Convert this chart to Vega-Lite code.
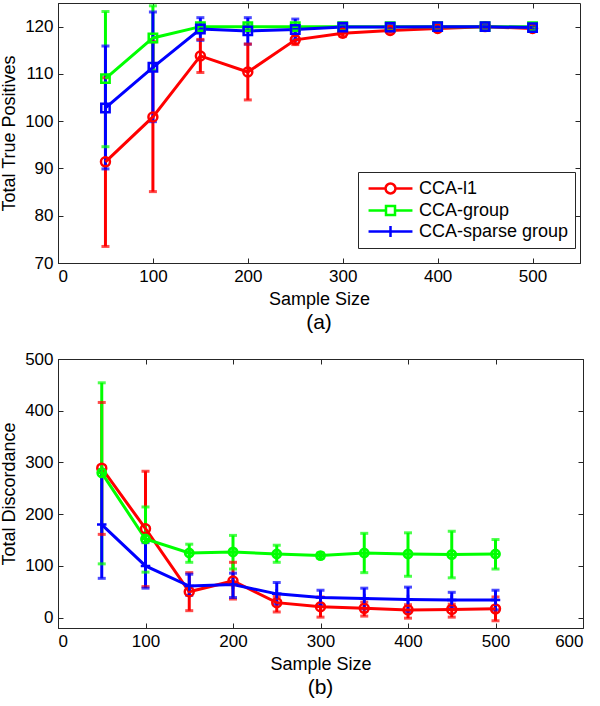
{
  "$schema": "https://vega.github.io/schema/vega-lite/v6.json",
  "padding": {"left": 0, "top": 2, "right": 5, "bottom": 2},
  "config": {
    "font": "Liberation Sans",
    "view": {"stroke": "#262626", "strokeWidth": 1},
    "axis": {"labelFontSize": 17, "titleFontSize": 18, "titleFontWeight": "normal", "labelColor": "#000", "titleColor": "#000", "domainColor": "#262626", "tickColor": "#262626", "tickSize": -5, "grid": false, "labelPadding": 10, "titlePadding": 6},
    "title": {"fontSize": 21, "fontWeight": "normal", "orient": "bottom", "offset": 4, "color": "#000"},
    "concat": {"spacing": 15}
  },
  "resolve": {"legend": {"color": "independent"}},
  "datasets": {
    "tp": [
      {"method": "CCA-l1", "n": 50, "mean": 91.4, "lo": 73.5, "hi": 109.2},
      {"method": "CCA-l1", "n": 100, "mean": 100.9, "lo": 85.1, "hi": 116.8},
      {"method": "CCA-l1", "n": 150, "mean": 113.8, "lo": 110.3, "hi": 117.3},
      {"method": "CCA-l1", "n": 200, "mean": 110.4, "lo": 104.5, "hi": 116.3},
      {"method": "CCA-l1", "n": 250, "mean": 117.2, "lo": 116.2, "hi": 118.2},
      {"method": "CCA-l1", "n": 300, "mean": 118.6, "lo": 117.9, "hi": 119.3},
      {"method": "CCA-l1", "n": 350, "mean": 119.2, "lo": 118.7, "hi": 119.7},
      {"method": "CCA-l1", "n": 400, "mean": 119.6, "lo": 119.2, "hi": 120.0},
      {"method": "CCA-l1", "n": 450, "mean": 120.0, "lo": 119.7, "hi": 120.3},
      {"method": "CCA-l1", "n": 500, "mean": 119.6, "lo": 119.1, "hi": 120.1},
      {"method": "CCA-group", "n": 50, "mean": 109.0, "lo": 94.6, "hi": 123.2},
      {"method": "CCA-group", "n": 100, "mean": 117.6, "lo": 110.8, "hi": 124.4},
      {"method": "CCA-group", "n": 150, "mean": 120.0, "lo": 119.7, "hi": 120.3},
      {"method": "CCA-group", "n": 200, "mean": 120.0, "lo": 119.7, "hi": 120.3},
      {"method": "CCA-group", "n": 250, "mean": 120.0, "lo": 119.7, "hi": 120.3},
      {"method": "CCA-group", "n": 300, "mean": 120.0, "lo": 119.8, "hi": 120.2},
      {"method": "CCA-group", "n": 350, "mean": 120.0, "lo": 119.8, "hi": 120.2},
      {"method": "CCA-group", "n": 400, "mean": 120.0, "lo": 119.8, "hi": 120.2},
      {"method": "CCA-group", "n": 450, "mean": 120.0, "lo": 119.8, "hi": 120.2},
      {"method": "CCA-group", "n": 500, "mean": 120.0, "lo": 119.8, "hi": 120.2},
      {"method": "CCA-sparse group", "n": 50, "mean": 102.8, "lo": 89.9, "hi": 115.9},
      {"method": "CCA-sparse group", "n": 100, "mean": 111.4, "lo": 99.9, "hi": 123.1},
      {"method": "CCA-sparse group", "n": 150, "mean": 119.5, "lo": 117.1, "hi": 121.9},
      {"method": "CCA-sparse group", "n": 200, "mean": 119.1, "lo": 116.3, "hi": 121.9},
      {"method": "CCA-sparse group", "n": 250, "mean": 119.4, "lo": 117.2, "hi": 121.6},
      {"method": "CCA-sparse group", "n": 300, "mean": 119.9, "lo": 119.5, "hi": 120.3},
      {"method": "CCA-sparse group", "n": 350, "mean": 119.9, "lo": 119.4, "hi": 120.4},
      {"method": "CCA-sparse group", "n": 400, "mean": 120.0, "lo": 119.6, "hi": 120.4},
      {"method": "CCA-sparse group", "n": 450, "mean": 120.0, "lo": 119.7, "hi": 120.3},
      {"method": "CCA-sparse group", "n": 500, "mean": 119.8, "lo": 119.4, "hi": 120.2}
    ],
    "disc": [
      {"method": "CCA-l1", "n": 50, "mean": 289, "lo": 161, "hi": 416},
      {"method": "CCA-l1", "n": 100, "mean": 172, "lo": 60, "hi": 283},
      {"method": "CCA-l1", "n": 150, "mean": 50, "lo": 13.5, "hi": 87},
      {"method": "CCA-l1", "n": 200, "mean": 71, "lo": 36, "hi": 107},
      {"method": "CCA-l1", "n": 250, "mean": 29, "lo": 11, "hi": 41},
      {"method": "CCA-l1", "n": 300, "mean": 21, "lo": 1, "hi": 40},
      {"method": "CCA-l1", "n": 350, "mean": 18, "lo": 3, "hi": 30},
      {"method": "CCA-l1", "n": 400, "mean": 15, "lo": -1, "hi": 25},
      {"method": "CCA-l1", "n": 450, "mean": 16, "lo": 1, "hi": 26},
      {"method": "CCA-l1", "n": 500, "mean": 17, "lo": -6, "hi": 40},
      {"method": "CCA-group", "n": 50, "mean": 280, "lo": 104, "hi": 454},
      {"method": "CCA-group", "n": 100, "mean": 152, "lo": 88, "hi": 214},
      {"method": "CCA-group", "n": 150, "mean": 125, "lo": 107, "hi": 142},
      {"method": "CCA-group", "n": 200, "mean": 127, "lo": 94, "hi": 159},
      {"method": "CCA-group", "n": 250, "mean": 123, "lo": 107, "hi": 140},
      {"method": "CCA-group", "n": 300, "mean": 120, "lo": 115, "hi": 125},
      {"method": "CCA-group", "n": 350, "mean": 125, "lo": 87, "hi": 163},
      {"method": "CCA-group", "n": 400, "mean": 123, "lo": 80, "hi": 164},
      {"method": "CCA-group", "n": 450, "mean": 122, "lo": 77, "hi": 167},
      {"method": "CCA-group", "n": 500, "mean": 123, "lo": 94, "hi": 151},
      {"method": "CCA-sparse group", "n": 50, "mean": 180, "lo": 76, "hi": 286},
      {"method": "CCA-sparse group", "n": 100, "mean": 100, "lo": 57, "hi": 145},
      {"method": "CCA-sparse group", "n": 150, "mean": 61, "lo": 43, "hi": 84},
      {"method": "CCA-sparse group", "n": 200, "mean": 64, "lo": 39, "hi": 86},
      {"method": "CCA-sparse group", "n": 250, "mean": 46, "lo": 26, "hi": 68},
      {"method": "CCA-sparse group", "n": 300, "mean": 39, "lo": 24, "hi": 53},
      {"method": "CCA-sparse group", "n": 350, "mean": 37, "lo": 17, "hi": 57},
      {"method": "CCA-sparse group", "n": 400, "mean": 35, "lo": 12, "hi": 59},
      {"method": "CCA-sparse group", "n": 450, "mean": 34, "lo": 20, "hi": 49},
      {"method": "CCA-sparse group", "n": 500, "mean": 34, "lo": 15, "hi": 53}
    ]
  },
  "vconcat": [
    {
      "width": 522,
      "height": 260,
      "title": {"text": "(a)"},
      "data": {"name": "tp"},
      "layer": [
        {
          "mark": {"type": "rule", "strokeWidth": 3},
          "encoding": {
            "x": {"field": "n", "type": "quantitative", "scale": {"domain": [0, 550], "nice": false}, "axis": {"values": [0, 100, 200, 300, 400, 500], "title": "Sample Size"}},
            "y": {"field": "lo", "type": "quantitative", "scale": {"domain": [70, 125], "nice": false, "zero": false}, "axis": {"values": [70, 80, 90, 100, 110, 120], "title": "Total True Positives"}},
            "y2": {"field": "hi"},
            "color": {"field": "method", "type": "nominal", "scale": {"domain": ["CCA-l1", "CCA-group", "CCA-sparse group"], "range": ["#ff0000", "#00ff00", "#0000ff"]}, "legend": {
              "orient": "none", "legendX": 300, "legendY": 169, "title": null,
              "strokeColor": "#262626", "fillColor": "white", "padding": 6,
              "labelFontSize": 18, "labelColor": "#000", "symbolSize": 324, "symbolStrokeWidth": 2.5,
              "symbolOffset": 16, "labelOffset": 18, "rowPadding": 1,
              "encode": {"symbols": {"update": {"shape": {"signal": "datum.value === 'CCA-l1' ? 'M-2.44,0H-0.55M0.55,0H2.44M0.55,0A0.55,0.55 0 1,1 -0.55,0A0.55,0.55 0 1,1 0.55,0' : datum.value === 'CCA-group' ? 'M-2.44,0H-0.5M0.5,0H2.44M-0.5,-0.5H0.5V0.5H-0.5Z' : 'M-2.44,0H2.44M0,-0.6V0.6'"}, "fill": {"value": "transparent"}, "fillOpacity": {"value": 0}}}}
            }}
          }
        },
        {
          "mark": {"type": "tick", "orient": "horizontal", "size": 8, "thickness": 3},
          "encoding": {
            "x": {"field": "n", "type": "quantitative", "axis": null},
            "y": {"field": "lo", "type": "quantitative", "axis": null},
            "color": {"field": "method", "type": "nominal"}
          }
        },
        {
          "mark": {"type": "tick", "orient": "horizontal", "size": 8, "thickness": 3},
          "encoding": {
            "x": {"field": "n", "type": "quantitative", "axis": null},
            "y": {"field": "hi", "type": "quantitative", "axis": null},
            "color": {"field": "method", "type": "nominal"}
          }
        },
        {
          "mark": {"type": "line", "strokeWidth": 3},
          "encoding": {
            "x": {"field": "n", "type": "quantitative", "axis": null},
            "y": {"field": "mean", "type": "quantitative", "axis": null},
            "color": {"field": "method", "type": "nominal"}
          }
        },
        {
          "transform": [{"filter": "datum.method === 'CCA-l1'"}],
          "mark": {"type": "point", "filled": false, "strokeWidth": 2.5, "size": 80, "opacity": 1, "shape": "circle"},
          "encoding": {
            "x": {"field": "n", "type": "quantitative", "axis": {"orient": "top", "labels": false, "title": null, "domain": false, "values": [0, 100, 200, 300, 400, 500]}},
            "y": {"field": "mean", "type": "quantitative", "axis": {"orient": "right", "labels": false, "title": null, "domain": false, "values": [70, 80, 90, 100, 110, 120]}},
            "color": {"field": "method", "type": "nominal"}
          }
        },
        {
          "transform": [{"filter": "datum.method !== 'CCA-l1'"}],
          "mark": {"type": "point", "filled": false, "strokeWidth": 2.5, "size": 70, "opacity": 1, "shape": "square"},
          "encoding": {
            "x": {"field": "n", "type": "quantitative", "axis": null},
            "y": {"field": "mean", "type": "quantitative", "axis": null},
            "color": {"field": "method", "type": "nominal"}
          }
        }
      ],
      "resolve": {"axis": {"x": "independent", "y": "independent"}}
    },
    {
      "width": 525,
      "height": 269,
      "title": {"text": "(b)"},
      "data": {"name": "disc"},
      "layer": [
        {
          "mark": {"type": "rule", "strokeWidth": 3},
          "encoding": {
            "x": {"field": "n", "type": "quantitative", "scale": {"domain": [0, 600], "nice": false}, "axis": {"values": [0, 100, 200, 300, 400, 500, 600], "title": "Sample Size"}},
            "y": {"field": "lo", "type": "quantitative", "scale": {"domain": [-20, 500], "nice": false, "zero": false}, "axis": {"values": [0, 100, 200, 300, 400, 500], "title": "Total Discordance"}},
            "y2": {"field": "hi"},
            "color": {"field": "method", "type": "nominal", "scale": {"domain": ["CCA-l1", "CCA-group", "CCA-sparse group"], "range": ["#ff0000", "#00ff00", "#0000ff"]}, "legend": null}
          }
        },
        {
          "mark": {"type": "tick", "orient": "horizontal", "size": 8, "thickness": 3},
          "encoding": {
            "x": {"field": "n", "type": "quantitative", "axis": null},
            "y": {"field": "lo", "type": "quantitative", "axis": null},
            "color": {"field": "method", "type": "nominal", "legend": null}
          }
        },
        {
          "mark": {"type": "tick", "orient": "horizontal", "size": 8, "thickness": 3},
          "encoding": {
            "x": {"field": "n", "type": "quantitative", "axis": null},
            "y": {"field": "hi", "type": "quantitative", "axis": null},
            "color": {"field": "method", "type": "nominal", "legend": null}
          }
        },
        {
          "mark": {"type": "line", "strokeWidth": 3},
          "encoding": {
            "x": {"field": "n", "type": "quantitative", "axis": null},
            "y": {"field": "mean", "type": "quantitative", "axis": null},
            "color": {"field": "method", "type": "nominal", "legend": null}
          }
        },
        {
          "transform": [{"filter": "datum.method === 'CCA-l1'"}],
          "mark": {"type": "point", "filled": false, "strokeWidth": 2.5, "size": 80, "opacity": 1, "shape": "circle"},
          "encoding": {
            "x": {"field": "n", "type": "quantitative", "axis": {"orient": "top", "labels": false, "title": null, "domain": false, "values": [0, 100, 200, 300, 400, 500, 600]}},
            "y": {"field": "mean", "type": "quantitative", "axis": {"orient": "right", "labels": false, "title": null, "domain": false, "values": [0, 100, 200, 300, 400, 500]}},
            "color": {"field": "method", "type": "nominal", "legend": null}
          }
        },
        {
          "transform": [{"filter": "datum.method === 'CCA-group'"}],
          "mark": {"type": "point", "filled": false, "strokeWidth": 2.5, "size": 70, "opacity": 1, "shape": "M-1,0H1M0,-1V1M1,0A1,1 0 1,1 -1,0A1,1 0 1,1 1,0"},
          "encoding": {
            "x": {"field": "n", "type": "quantitative", "axis": null},
            "y": {"field": "mean", "type": "quantitative", "axis": null},
            "color": {"field": "method", "type": "nominal", "legend": null}
          }
        },
        {
          "transform": [{"filter": "datum.method === 'CCA-sparse group'"}],
          "mark": {"type": "point", "filled": false, "strokeWidth": 2.5, "size": 90, "opacity": 1, "shape": "M-1,0H1M0,-1V1"},
          "encoding": {
            "x": {"field": "n", "type": "quantitative", "axis": null},
            "y": {"field": "mean", "type": "quantitative", "axis": null},
            "color": {"field": "method", "type": "nominal", "legend": null}
          }
        }
      ],
      "resolve": {"axis": {"x": "independent", "y": "independent"}}
    }
  ]
}
